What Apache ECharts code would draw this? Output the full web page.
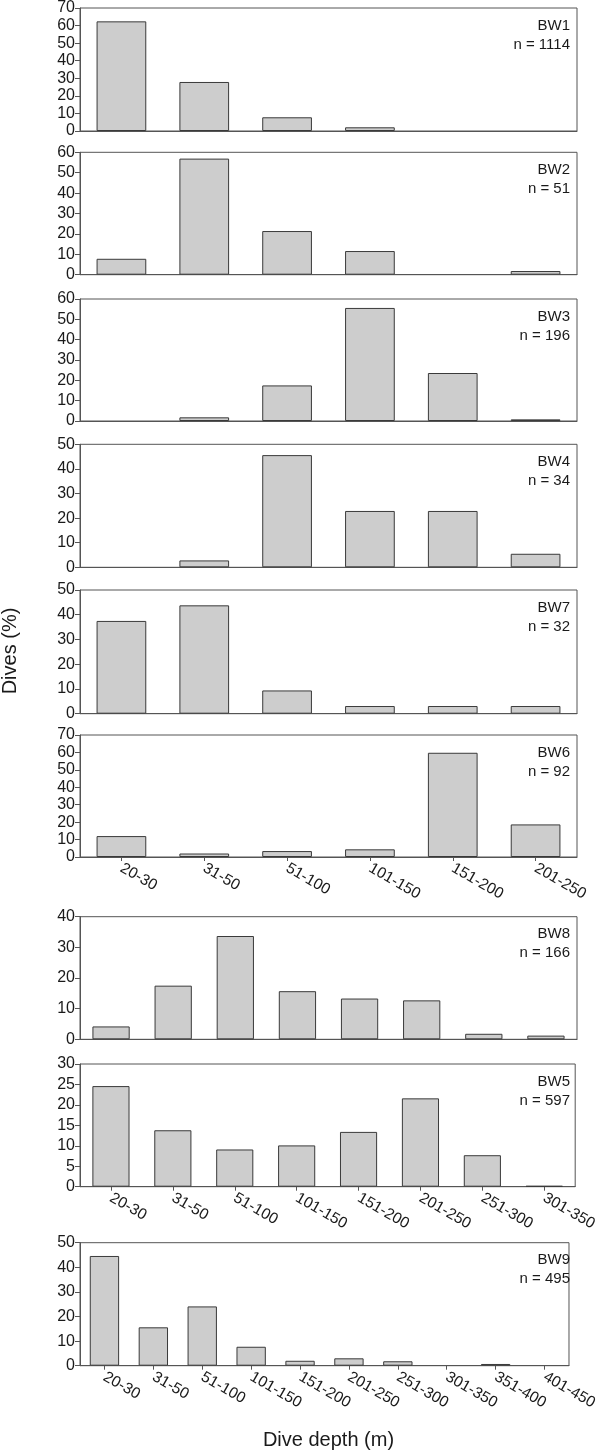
<!DOCTYPE html>
<html><head><meta charset="utf-8">
<script src="https://cdn.jsdelivr.net/npm/echarts@6/dist/echarts.min.js"></script>
<style>html,body{margin:0;padding:0;background:#fff}#c{width:600px;height:1452px}</style>
</head><body><div id="c"></div><script>
// Categories (dive depth bins, m)
const cats6 = ['20-30','31-50','51-100','101-150','151-200','201-250'];
const cats8 = ['20-30','31-50','51-100','101-150','151-200','201-250','251-300','301-350'];
const cats10 = ['20-30','31-50','51-100','101-150','151-200','201-250','251-300','301-350','351-400','401-450'];

// Dives (%) per whale
const bw1 = [62.4, 27.9, 7.8, 2.1, 0, 0];
const bw2 = [7.8, 56.9, 21.4, 11.6, 0, 1.8];
const bw3 = [0, 1.8, 17.5, 55.6, 23.6, 0.8];
const bw4 = [0, 2.8, 45.6, 22.9, 22.9, 5.5];
const bw7 = [37.5, 43.8, 9.4, 3.1, 3.1, 3.1];
const bw6 = [12.0, 2.0, 3.4, 4.4, 59.8, 18.7];
const bw8 = [4.2, 17.5, 33.7, 15.7, 13.3, 12.7, 1.8, 1.2];
const bw5 = [24.6, 13.8, 9.1, 10.1, 13.4, 21.6, 7.7, 0.2];
const bw9 = [44.6, 15.6, 24.1, 7.7, 2.0, 3.0, 1.8, 0, 0.7, 0];

// Panel names and sample sizes
const names = ['BW1','BW2','BW3','BW4','BW7','BW6','BW8','BW5','BW9'];
const sampleN = ['1114','51','196','34','32','92','166','597','495'];
// y-axis maxima and tick intervals
const yMax = [70, 60, 60, 50, 50, 70, 40, 30, 50];
const yStep = [10, 10, 10, 10, 10, 10, 10, 5, 10];

const seriesData = [bw1, bw2, bw3, bw4, bw7, bw6, bw8, bw5, bw9];
const seriesCats = [cats6, cats6, cats6, cats6, cats6, cats6, cats8, cats8, cats10];
const showXLabels = [false, false, false, false, false, true, false, true, true];

// layout
const gridTop = [8, 152.3, 299, 444.3, 590, 735, 916.7, 1064, 1242.7];
const gridBase = [131, 274.7, 421, 567.3, 713.7, 857, 1039.3, 1186.7, 1365.7];
const L = 80, R = 577;

const FONT = '"Liberation Sans", Arial, sans-serif';
const axisCol = '#555';
const textCol = '#1a1a1a';

const grids = [], xAxes = [], yAxes = [], series = [], graphics = [];
for (let i = 0; i < 9; i++) {
  grids.push({left: L, width: R - L, top: gridTop[i], height: gridBase[i] - gridTop[i],
    show: true, borderColor: axisCol, borderWidth: 1, backgroundColor: 'transparent', containLabel: false});
  xAxes.push({type: 'category', gridIndex: i, data: seriesCats[i],
    axisLine: {show: true, lineStyle: {color: axisCol, width: 1}},
    axisTick: {show: showXLabels[i], alignWithLabel: true, length: 4, lineStyle: {color: axisCol}},
    axisLabel: {show: showXLabels[i], rotate: -30, fontSize: 15.5, fontFamily: FONT, color: textCol, margin: 10, interval: 0},
    splitLine: {show: false}});
  yAxes.push({type: 'value', gridIndex: i, min: 0, max: yMax[i], interval: yStep[i],
    axisLine: {show: true, lineStyle: {color: axisCol, width: 1}},
    axisTick: {show: true, inside: false, length: 5, lineStyle: {color: axisCol}},
    axisLabel: {fontSize: 16, fontFamily: FONT, color: textCol, margin: 5},
    splitLine: {show: false}});
  series.push({type: 'bar', xAxisIndex: i, yAxisIndex: i,
    data: seriesData[i].map(v => (v === 0 ? null : v)), barWidth: '60%',
    itemStyle: {color: '#cdcdcd', borderColor: '#3a3a3a', borderWidth: 1}, silent: true, animation: false});
  graphics.push({type: 'text', x: R - 7, y: gridTop[i] + 8,
    style: {text: names[i] + '\nn = ' + sampleN[i], align: 'right', textAlign: 'right', verticalAlign: 'top',
      font: '15px ' + FONT, fill: textCol, lineHeight: 19}});
}
graphics.push({type: 'text', x: 10, y: 651, rotation: Math.PI / 2,
  style: {text: 'Dives (%)', textAlign: 'center', textVerticalAlign: 'middle', verticalAlign: 'middle', font: '20px ' + FONT, fill: textCol}});
graphics.push({type: 'text', x: (L + R) / 2, y: 1440,
  style: {text: 'Dive depth (m)', textAlign: 'center', textVerticalAlign: 'middle', verticalAlign: 'middle', font: '20px ' + FONT, fill: textCol}});

const chart = echarts.init(document.getElementById('c'), null, {renderer: 'canvas'});
chart.setOption({
  animation: false,
  backgroundColor: '#fff',
  grid: grids, xAxis: xAxes, yAxis: yAxes, series: series,
  graphic: graphics
});
</script></body></html>
